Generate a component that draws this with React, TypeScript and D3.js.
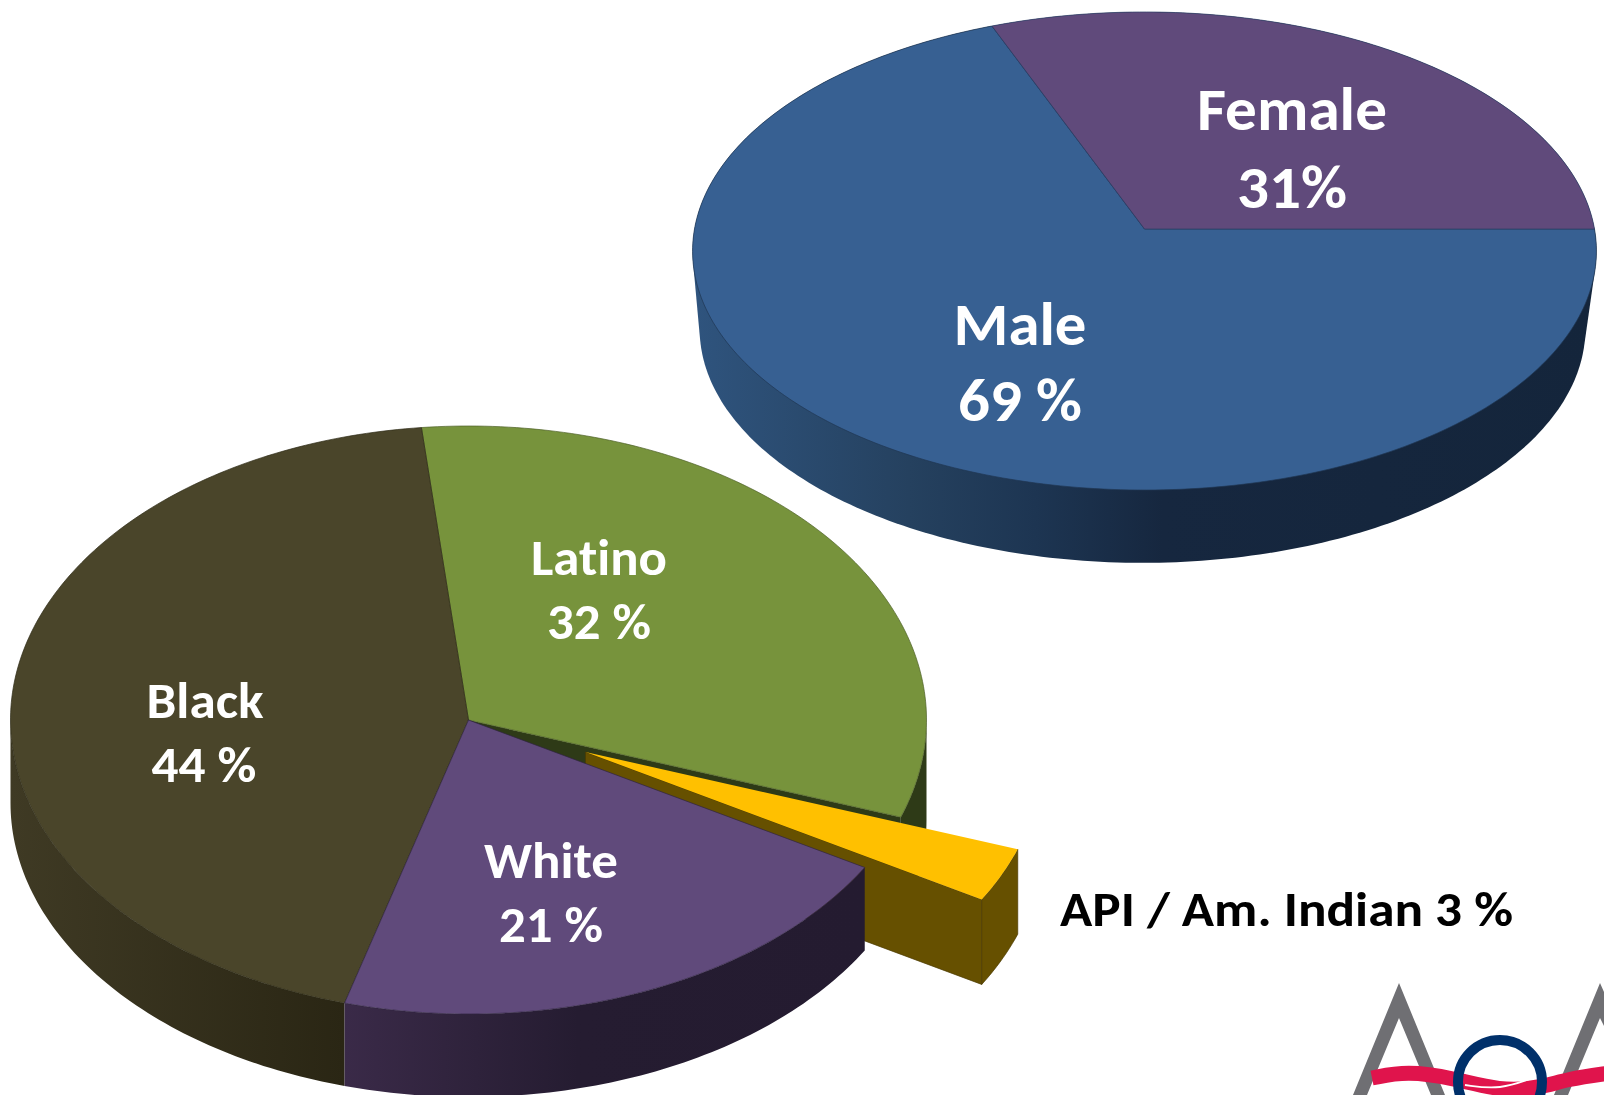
import React from "react";
import * as d3 from "d3";

const W = 1604;
const H = 1095;

// Data
const genderLabels = ["Female", "Male"];
const genderValues = [31, 69];
const genderText = ["31%", "69 %"];
const raceLabels = ["Latino", "API / Am. Indian", "White", "Black"];
const raceValues = [32, 3, 21, 44];
const raceText = ["32 %", "3 %", "21 %", "44 %"];

// Logo outline samples (drawn decoration, pixel space)
const logoWaveTop: [number, number][] = [[1372, 1078], [1407, 1071], [1453, 1078], [1500, 1091], [1540, 1088], [1567, 1079], [1610, 1073]];
const logoWaveGap: [number, number][] = [[1465, 1085], [1500, 1090], [1535, 1077]];

const deg = Math.PI / 180;

type Proj = { cx: number; cy: number; a: number; b: number; k: number; depth: number; shrink: number; shiftX: number };

const top: Proj = { cx: 1144.5, cy: 229, a: 450, b: 237, k: -0.0921, depth: 78, shrink: 0.98, shiftX: -2 };
const bottom: Proj = { cx: 468.5, cy: 720, a: 458, b: 294, k: 0, depth: 83, shrink: 1, shiftX: 0 };

// disc coordinates -> screen, angle clockwise from 12 o'clock
function pt(p: Proj, ang: number, r = 1, lower = false, depth = p.depth): [number, number] {
  const u = Math.sin(ang) * r;
  const v = -Math.cos(ang) * r;
  const w = 1 + p.k * v;
  const s = lower ? p.shrink : 1;
  return [p.cx + (p.a * u * s) / w + (lower ? p.shiftX : 0), p.cy + (p.b * v * s) / w + (lower ? depth : 0)];
}
function angles(a0: number, a1: number) {
  const n = Math.max(2, Math.ceil(Math.abs(a1 - a0) / (1 * deg)));
  return d3.range(n + 1).map((i) => a0 + ((a1 - a0) * i) / n);
}
const line = d3.line().curve(d3.curveLinear);
const closed = (pts: [number, number][]) => (line(pts) as string) + "Z";

function topFace(p: Proj, a0: number, a1: number) {
  return closed([pt(p, 0, 0), ...angles(a0, a1).map((a) => pt(p, a))]);
}
function rimSide(p: Proj, a0: number, a1: number, depth = p.depth) {
  const s = Math.max(a0, Math.PI / 2);
  const e = Math.min(a1, (3 * Math.PI) / 2);
  if (e <= s) return "";
  const as = angles(s, e);
  return closed([...as.map((a) => pt(p, a)), ...as.slice().reverse().map((a) => pt(p, a, 1, true, depth))]);
}
function wall(p: Proj, ang: number, depth = p.depth) {
  return closed([pt(p, 0, 0), pt(p, ang), pt(p, ang, 1, true, depth), pt(p, 0, 0, true, depth)]);
}
// silhouette of the whole drum: convex hull of the upper and lower rims
function hullSide(p: Proj) {
  const as = angles(0, 2 * Math.PI);
  const hull = d3.polygonHull([...as.map((a) => pt(p, a)), ...as.map((a) => pt(p, a, 1, true))]) as [number, number][];
  return closed(hull);
}

const genderArcs = d3.pie<number>().sort(null).startAngle(-21.6 * deg).endAngle(338.4 * deg)(genderValues);
const raceArcs = d3.pie<number>().sort(null).startAngle(-5.9 * deg).endAngle(354.1 * deg)(raceValues);

const sans = "Carlito, Calibri, Lato, 'Open Sans', sans-serif";
const Label = ({ x, y, size, w, children, fill = "#fff", anchor = "middle" }: any) => (
  <text x={x} y={y} fill={fill} textAnchor={anchor} fontFamily={sans} fontWeight={700} fontSize={size} textLength={w} lengthAdjust="spacingAndGlyphs" style={{ fontVariantLigatures: "none" }}>
    {children}
  </text>
);

export default function App() {
  const [fem, male] = genderArcs;
  const [lat, api, wht, blk] = raceArcs;
  const latDepth = 100;
  const ex = { dx: 117, dy: 32 };
  const apiProj: Proj = { ...bottom, cx: bottom.cx + ex.dx, cy: bottom.cy + ex.dy, depth: 85 };
  const edge = 0.7;

  return (
    <svg width={W} height={H} viewBox={`0 0 ${W} ${H}`} style={{ position: "absolute", left: 0, top: 0, display: "block", background: "#fff" }}>
      <defs>
        <linearGradient id="maleSide" gradientUnits="userSpaceOnUse" x1={692} x2={1597} y1={0} y2={0}>
          <stop offset="0" stopColor="#2f547e" />
          <stop offset="0.24" stopColor="#25415f" />
          <stop offset="0.38" stopColor="#1d3552" />
          <stop offset="0.52" stopColor="#16273f" />
          <stop offset="1" stopColor="#14253b" />
        </linearGradient>
        <linearGradient id="blackSide" gradientUnits="userSpaceOnUse" x1={11} x2={344} y1={0} y2={0}>
          <stop offset="0" stopColor="#3f3a24" />
          <stop offset="1" stopColor="#2a2614" />
        </linearGradient>
        <linearGradient id="whiteSide" gradientUnits="userSpaceOnUse" x1={344} x2={864} y1={0} y2={0}>
          <stop offset="0" stopColor="#3a2a48" />
          <stop offset="0.45" stopColor="#251c31" />
          <stop offset="1" stopColor="#241b30" />
        </linearGradient>
      </defs>

      {/* Gender pie */}
      <path d={hullSide(top)} fill="url(#maleSide)" />
      <path d={topFace(top, male.startAngle, male.endAngle)} fill="#376092" stroke="#1f3653" strokeWidth={edge} />
      <path d={topFace(top, fem.startAngle, fem.endAngle)} fill="#604a7b" stroke="#2d3f66" strokeWidth={edge} />

      {/* Race pie: back to front */}
      <path d={wall(bottom, lat.endAngle, latDepth)} fill="#2e3a17" />
      <path d={rimSide(bottom, lat.startAngle, lat.endAngle, latDepth)} fill="#2e3a17" />
      <path d={topFace(bottom, lat.startAngle, lat.endAngle)} fill="#77933c" stroke="#4d6027" strokeWidth={edge} />

      <path d={wall(apiProj, api.endAngle)} fill="#665000" stroke="#4a3a00" strokeWidth={edge} />
      <path d={rimSide(apiProj, api.startAngle, api.endAngle)} fill="#665000" stroke="#4a3a00" strokeWidth={edge} />
      <path d={topFace(apiProj, api.startAngle, api.endAngle)} fill="#ffc000" />

      <path d={rimSide(bottom, blk.startAngle, blk.endAngle)} fill="url(#blackSide)" />
      <path d={topFace(bottom, blk.startAngle, blk.endAngle)} fill="#4a452a" stroke="#2c2916" strokeWidth={edge} />
      <path d={rimSide(bottom, wht.startAngle, wht.endAngle)} fill="url(#whiteSide)" />
      <path d={topFace(bottom, wht.startAngle, wht.endAngle)} fill="#604a7b" stroke="#2f2440" strokeWidth={edge} />

      {/* Labels */}
      <Label x={1292} y={130} size={60} w={190}>{genderLabels[0]}</Label>
      <Label x={1292} y={208} size={60} w={110}>{genderText[0]}</Label>
      <Label x={1020} y={345} size={60} w={133}>{genderLabels[1]}</Label>
      <Label x={1020} y={421} size={60} w={124}>{genderText[1]}</Label>
      <Label x={599} y={575} size={50} w={136}>{raceLabels[0]}</Label>
      <Label x={599} y={639} size={50} w={104}>{raceText[0]}</Label>
      <Label x={205} y={718} size={50} w={117}>{raceLabels[3]}</Label>
      <Label x={204} y={782} size={50} w={105}>{raceText[3]}</Label>
      <Label x={551} y={878} size={50} w={134}>{raceLabels[2]}</Label>
      <Label x={551} y={942} size={50} w={104}>{raceText[2]}</Label>
      <Label x={1060} y={926} size={49} w={453} fill="#000" anchor="start">{`${raceLabels[1]} ${raceText[1]}`}</Label>

      {/* AoA logo, cut by the page edge */}
      <g>
        <path d={line([[1353, 1095], [1399, 983], [1445, 1095], [1431, 1095], [1399, 1018], [1367, 1095]]) + "Z"} fill="#6f6f73" />
        <path d={line([[1554, 1095], [1600, 983], [1604, 992], [1604, 1026], [1600, 1018], [1568, 1095]]) + "Z"} fill="#6f6f73" />
        <path d={d3.line().curve(d3.curveBasis)(logoWaveTop) as string} fill="none" stroke="#e0144c" strokeWidth={15} />
        <circle cx={1500} cy={1082} r={42} fill="none" stroke="#00306a" strokeWidth={10} />
        <path d={d3.line().curve(d3.curveBasis)(logoWaveGap) as string} fill="none" stroke="#fff" strokeWidth={1.8} />
      </g>
    </svg>
  );
}
